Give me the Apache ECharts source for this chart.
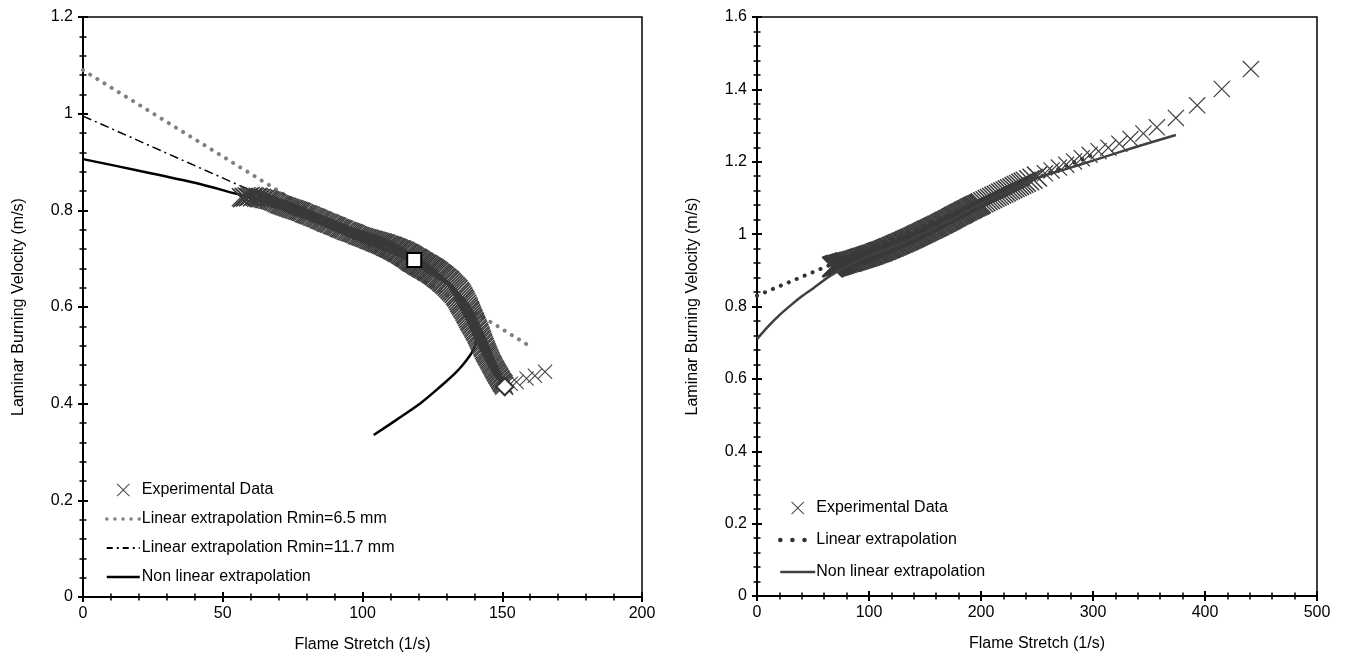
<!DOCTYPE html>
<html>
<head>
<meta charset="utf-8">
<script src="https://cdn.jsdelivr.net/npm/echarts@6/dist/echarts.min.js"></script>
<style>
html,body{margin:0;padding:0;background:#fff;}
#chart{width:1346px;height:664px;}
</style>
</head>
<body>
<div id="chart"></div>
<script>
// ---------------- LEFT CHART DATA ----------------
// dense part of the experimental data (read along the band)
var leftExpStretch = [56.5,57,57.5,58,58.5,59,59.5,60,60.5,61,61.5,62,62.5,63,63.5,64,64.5,65,65.5,66,
  66.5,67,67.5,68,68.5,69,69.5,70,70.5,71,71.5,72,72.5,73,73.5,74,74.5,75,75.5,76,76.5,77,77.5,78,78.5,79,79.5,80,
  80.5,81,81.5,82,82.5,83,83.5,84,84.5,85,85.5,86,86.5,87,87.5,88,88.5,89,89.5,90,
  90.5,91,91.5,92,92.5,93,93.5,94,94.5,95,95.5,96,96.5,97,97.5,98,98.5,99,99.5,100,
  100.5,101,101.5,102,102.5,103,103.5,104,104.5,105,105.5,106,106.5,107,107.5,108,108.5,109,109.5,110,
  110.5,111,111.5,112,112.5,113,113.5,114,114.5,115,115.5,116,116.5,117,117.5,118,118.5,119,119.5,120,
  120.5,121,121.5,122,122.5,123,123.5,124,124.5,125,125.5,126,126.5,127,127.5,128,128.5,129,129.5,130,
  130.5,131,131.5,132,132.5,133,133.5,134,134.4,134.8,135.2,135.5,135.9,136.2,136.6,137,137.3,137.6,137.9,138.2,
  138.5,138.8,139.1,139.4,139.7,140,140.3,140.6,140.9,141.2,141.45,141.7,141.95,142.2,142.45,142.7,142.95,143.2,
  143.45,143.7,143.95,144.2,144.45,144.7,144.95,145.2,145.45,145.7,145.95,146.2,146.45,146.7,146.95,147.2,
  147.45,147.7,147.95,148.2,148.45,148.7,148.95,149.2,149.45,149.7,149.95,150.2,150.45,150.7];
var leftExpVelocity = [0.827,0.825,0.828,0.826,0.829,0.827,0.828,0.830,0.827,0.829,0.828,0.826,0.828,0.827,0.825,0.826,0.824,0.823,0.824,0.822,
  0.822,0.821,0.820,0.819,0.818,0.816,0.815,0.813,0.812,0.811,0.810,0.809,0.808,0.807,0.806,0.805,0.804,0.803,0.802,0.801,0.800,0.799,0.798,0.797,0.796,0.794,0.793,0.792,
  0.791,0.790,0.789,0.787,0.786,0.785,0.784,0.783,0.781,0.780,0.779,0.778,0.776,0.775,0.774,0.773,0.772,0.770,0.769,0.768,
  0.767,0.766,0.764,0.763,0.762,0.761,0.760,0.758,0.757,0.756,0.755,0.754,0.753,0.752,0.751,0.749,0.748,0.747,0.746,0.745,
  0.744,0.743,0.742,0.741,0.740,0.739,0.738,0.737,0.736,0.735,0.734,0.733,0.732,0.731,0.730,0.729,0.727,0.726,0.725,0.724,
  0.723,0.721,0.720,0.719,0.717,0.716,0.715,0.713,0.712,0.710,0.708,0.707,0.705,0.703,0.701,0.699,0.697,0.696,0.694,0.692,
  0.690,0.689,0.687,0.685,0.684,0.682,0.680,0.678,0.677,0.675,0.673,0.671,0.669,0.666,0.664,0.662,0.660,0.657,0.655,0.652,
  0.650,0.647,0.644,0.641,0.638,0.635,0.632,0.628,0.625,0.621,0.617,0.613,0.610,0.606,0.602,0.598,0.594,0.590,0.587,0.583,
  0.579,0.575,0.572,0.568,0.565,0.561,0.558,0.554,0.551,0.547,0.544,0.540,0.537,0.533,0.530,0.526,0.523,0.519,
  0.516,0.512,0.509,0.506,0.503,0.500,0.497,0.494,0.491,0.488,0.485,0.482,0.480,0.477,0.474,0.471,
  0.469,0.466,0.464,0.461,0.459,0.456,0.454,0.451,0.449,0.446,0.444,0.442,0.440,0.437];
// sparse tail of the experimental data
var leftExpTailStretch = [153, 155.1, 158.7, 161.7, 165.3];
var leftExpTailVelocity = [0.441, 0.445, 0.452, 0.458, 0.466];

var leftLin65Stretch = [0, 159];
var leftLin65Velocity = [1.090, 0.522];

var leftLin117Stretch = [0, 119];
var leftLin117Velocity = [0.995, 0.690];

var leftNonLinStretch = [0,20,40,55,70,85,100,110,120,127,132,136,138.5,140,140.6,140.4,139.5,138.5,136,133,128,121,112,104];
var leftNonLinVelocity = [0.906,0.882,0.857,0.834,0.811,0.780,0.745,0.724,0.693,0.668,0.643,0.615,0.591,0.567,0.543,0.522,0.510,0.500,0.481,0.462,0.436,0.402,0.366,0.335];

var leftSquare = [118.5, 0.697];
var leftDiamond = [150.9, 0.435];

// ---------------- RIGHT CHART DATA ----------------
var rightExpStretch = [67,67.5,68,68.5,69,69.5,70,70.5,71,71.5,72,72.5,73,73.5,74,74.5,75,75.5,76,76.5,77,77.5,78,78.5,79,79.5,80,
  81,82,83,84,85,86,87,88,89,90,91,92,93,94,95,96,97,98,99,100,
  101,102,103,104,105,106,107,108,109,110,111,112,113,114,115,116,117,118,119,120,
  121,122,123,124,125,126,127,128,129,130,131,132,133,134,135,136,137,138,139,140,
  141,142,143,144,145,146,147,148,149,150,151,152,153,154,155,156,157,158,159,160,
  161,162,163,164,165,166,167,168,169,170,171,172,173,174,175,176,177,178,179,180,
  181,182,183,184,185,186,187,188,189,190,191,192,193,194,195,196,197,198,199,200,
  202,204,206,208,210,212,214,216,218,220,222,224,226,228,230,232,234,236,238,240,243,246,250];
var rightExpVelocity = [0.909,0.911,0.908,0.912,0.910,0.913,0.911,0.914,0.912,0.915,0.913,0.915,0.914,0.916,0.915,0.917,0.916,0.918,0.917,0.919,0.918,0.920,0.919,0.921,0.920,0.922,0.921,
  0.922,0.923,0.924,0.924,0.925,0.926,0.927,0.928,0.929,0.930,0.931,0.932,0.933,0.934,0.935,0.936,0.937,0.938,0.939,0.940,
  0.941,0.942,0.943,0.944,0.945,0.947,0.948,0.949,0.950,0.951,0.952,0.953,0.955,0.956,0.957,0.958,0.960,0.961,0.962,0.964,
  0.965,0.966,0.968,0.969,0.970,0.972,0.973,0.974,0.976,0.977,0.978,0.980,0.981,0.983,0.984,0.985,0.987,0.988,0.990,0.991,
  0.993,0.994,0.996,0.997,0.999,1.000,1.002,1.003,1.005,1.006,1.008,1.009,1.011,1.012,1.014,1.015,1.017,1.018,1.020,1.021,
  1.023,1.024,1.026,1.028,1.029,1.031,1.032,1.034,1.035,1.037,1.039,1.040,1.042,1.044,1.045,1.047,1.049,1.050,1.052,1.054,
  1.055,1.057,1.058,1.060,1.062,1.063,1.065,1.066,1.068,1.070,1.071,1.073,1.074,1.076,1.077,1.079,1.080,1.082,1.083,1.085,
  1.088,1.091,1.094,1.097,1.100,1.103,1.106,1.109,1.112,1.115,1.118,1.121,1.124,1.127,1.130,1.133,1.136,1.139,1.142,1.145,1.149,1.153,1.159];
var rightExpTailStretch = [257,263,269.6,276,283,290,297,305,313.7,323.5,333.5,345,357,374,393,415,441];
var rightExpTailVelocity = [1.168,1.176,1.184,1.192,1.201,1.210,1.219,1.229,1.239,1.250,1.263,1.278,1.295,1.321,1.356,1.401,1.456];

var rightLinStretch = [0, 300];
var rightLinVelocity = [0.830, 1.220];

var rightNonLinStretch = [0,10,20,30,40,50,65,80,100,118.75,150,175,200,225,250,275,300,325,350,374];
var rightNonLinVelocity = [0.710,0.745,0.776,0.803,0.828,0.850,0.884,0.911,0.939,0.961,1.004,1.043,1.083,1.120,1.155,1.179,1.203,1.228,1.252,1.274];

// tick settings
var leftXTicks = {min:0, max:200, interval:50};
var leftYTicks = {min:0, max:1.2, interval:0.2};
var rightXTicks = {min:0, max:500, interval:100};
var rightYTicks = {min:0, max:1.6, interval:0.2};

function zip(a, b){ var r=[]; for (var i=0;i<a.length;i++) r.push([a[i], b[i]]); return r; }

var XPATH_THIN = 'path://M0,1L1,0L10,9L19,0L20,1L11,10L20,19L19,20L10,11L1,20L0,19L9,10Z';
var FONT = 'Liberation Sans, Arial, sans-serif';

// marker size along the left band (the band widens near the bend)
function leftBandSize(v){
  var x = v[0];
  if (x <= 100) return 19;
  if (x <= 118) return 19 + (x - 100) / 18 * 5;
  if (x <= 136) return 24;
  if (x <= 146) return 24 - (x - 136) / 10 * 5;
  return 19;
}

var chart = echarts.init(document.getElementById('chart'), null, {renderer:'canvas'});

var gridL = {left:83, top:17, width:559, height:580};
var gridR = {left:757, top:17, width:560, height:579};

function mkGrid(g, border){
  return {left:g.left, top:g.top, width:g.width, height:g.height, show:border, borderColor:'#000', borderWidth:1.5,
          backgroundColor:'transparent', containLabel:false, outerBoundsMode:'none'};
}

function mkAxis(type, gridIndex, t, inside, name, nameGap, labelMargin){
  var ax = {
    type:'value', gridIndex:gridIndex, min:t.min, max:t.max, interval:t.interval,
    position: type==='x' ? 'bottom' : 'left',
    axisLine:{show:true, onZero:false, lineStyle:{color:'#000', width:2}},
    axisTick:{show:true, inside:inside, length:5, lineStyle:{color:'#000', width:2}},
    minorTick:{show:true, splitNumber:5, length:3.5, lineStyle:{color:'#000', width:1.5}},
    splitLine:{show:false},
    minorSplitLine:{show:false},
    axisLabel:{show:!inside, color:'#000', fontSize:16, fontFamily:FONT, margin:labelMargin,
      formatter:function(v){ return String(Math.round(v*100)/100); }},
  };
  if (!inside) {
    ax.name = name; ax.nameLocation = 'middle'; ax.nameGap = nameGap;
    ax.nameTextStyle = {color:'#000', fontSize:16, fontFamily:FONT};
  }
  return ax;
}

var option = {
  animation:false,
  backgroundColor:'#fff',
  grid:[mkGrid(gridL,true), mkGrid(gridR,true), mkGrid(gridL,false), mkGrid(gridR,false)],
  xAxis:[
    mkAxis('x',0,leftXTicks,false,'Flame Stretch (1/s)',40,9),
    mkAxis('x',1,rightXTicks,false,'Flame Stretch (1/s)',40,9),
    mkAxis('x',2,leftXTicks,true),
    mkAxis('x',3,rightXTicks,true)
  ],
  yAxis:[
    mkAxis('y',0,leftYTicks,false,'Laminar Burning Velocity (m/s)',56,10),
    mkAxis('y',1,rightYTicks,false,'Laminar Burning Velocity (m/s)',56,10),
    mkAxis('y',2,leftYTicks,true),
    mkAxis('y',3,rightYTicks,true)
  ],
  legend:[
    {
      left:100, top:477, orient:'vertical', itemWidth:33, itemHeight:13, itemGap:13,
      selectedMode:false,
      itemStyle:{opacity:0},
      textStyle:{color:'#000', fontSize:16, fontFamily:FONT, padding:[0,0,0,-3]},
      data:[
        {name:'Experimental Data', icon:XPATH_THIN, itemStyle:{opacity:1, color:'#404040'}},
        {name:'Linear extrapolation Rmin=6.5 mm', lineStyle:{color:'#808080', width:3.5, type:[0.1,8], cap:'round'}},
        {name:'Linear extrapolation Rmin=11.7 mm', lineStyle:{color:'#000', width:2, type:[6,4,2,4]}},
        {name:'Non linear extrapolation', lineStyle:{color:'#000', width:2.5, type:'solid'}}
      ]
    },
    {
      left:773, top:495, orient:'vertical', itemWidth:35, itemHeight:13, itemGap:16,
      selectedMode:false,
      itemStyle:{opacity:0},
      textStyle:{color:'#000', fontSize:16, fontFamily:FONT, padding:[0,0,0,-4]},
      data:[
        {name:'Experimental Data ', icon:XPATH_THIN, itemStyle:{opacity:1, color:'#404040'}},
        {name:'Linear extrapolation', lineStyle:{color:'#333', width:4.5, type:[0.1,12], cap:'round'}},
        {name:'Non linear extrapolation ', lineStyle:{color:'#404040', width:2.5, type:'solid'}}
      ]
    }
  ],
  series:[
    // ---- left ----
    {name:'Linear extrapolation Rmin=6.5 mm', type:'line', xAxisIndex:0, yAxisIndex:0,
     data:zip(leftLin65Stretch,leftLin65Velocity), symbol:'circle', showSymbol:false, z:2,
     itemStyle:{color:'#808080'},
     lineStyle:{color:'#808080', width:4, type:[0.1,8.3], cap:'round'}},
    {name:'Linear extrapolation Rmin=11.7 mm', type:'line', xAxisIndex:0, yAxisIndex:0,
     data:zip(leftLin117Stretch,leftLin117Velocity), symbol:'circle', showSymbol:false, z:2,
     itemStyle:{color:'#000'},
     lineStyle:{color:'#000', width:1.5, type:[9,4,2,4]}},
    {name:'Non linear extrapolation', type:'line', xAxisIndex:0, yAxisIndex:0,
     data:zip(leftNonLinStretch,leftNonLinVelocity), symbol:'circle', showSymbol:false, smooth:0.3, z:2,
     itemStyle:{color:'#000'},
     lineStyle:{color:'#000', width:2.5}},
    {name:'Experimental Data', type:'scatter', xAxisIndex:0, yAxisIndex:0,
     data:zip(leftExpStretch,leftExpVelocity), symbol:XPATH_THIN, symbolSize:leftBandSize, z:3,
     itemStyle:{color:'#3a3a3a', opacity:1}},
    {name:'Experimental Data', type:'scatter', xAxisIndex:0, yAxisIndex:0,
     data:zip(leftExpTailStretch,leftExpTailVelocity), symbol:XPATH_THIN, symbolSize:15, z:3,
     itemStyle:{color:'#444', opacity:1}},
    {name:'R6.5', type:'scatter', xAxisIndex:0, yAxisIndex:0, data:[leftDiamond], symbol:'diamond', symbolSize:[17,17], z:5,
     itemStyle:{color:'#fff', borderColor:'#333', borderWidth:2, opacity:1}},
    {name:'R11.7', type:'scatter', xAxisIndex:0, yAxisIndex:0, data:[leftSquare], symbol:'rect', symbolSize:14, z:5,
     itemStyle:{color:'#fff', borderColor:'#000', borderWidth:2, opacity:1}},
    // ---- right ----
    {name:'Linear extrapolation', type:'line', xAxisIndex:1, yAxisIndex:1,
     data:zip(rightLinStretch,rightLinVelocity), symbol:'circle', showSymbol:false, z:2,
     itemStyle:{color:'#333'},
     lineStyle:{color:'#333', width:4, type:[0.1,8.5], cap:'round'}},
    {name:'Experimental Data ', type:'scatter', xAxisIndex:1, yAxisIndex:1,
     data:zip(rightExpStretch,rightExpVelocity), symbol:XPATH_THIN, symbolSize:21, z:3,
     itemStyle:{color:'#3a3a3a', opacity:1}},
    {name:'Experimental Data ', type:'scatter', xAxisIndex:1, yAxisIndex:1,
     data:zip(rightExpTailStretch,rightExpTailVelocity), symbol:XPATH_THIN, symbolSize:17, z:3,
     itemStyle:{color:'#404040', opacity:1}},
    {name:'Non linear extrapolation ', type:'line', xAxisIndex:1, yAxisIndex:1,
     data:zip(rightNonLinStretch,rightNonLinVelocity), symbol:'circle', showSymbol:false, smooth:0.3, z:4,
     itemStyle:{color:'#404040'},
     lineStyle:{color:'#404040', width:2.5}}
  ]
};
chart.setOption(option);
</script>
</body>
</html>
